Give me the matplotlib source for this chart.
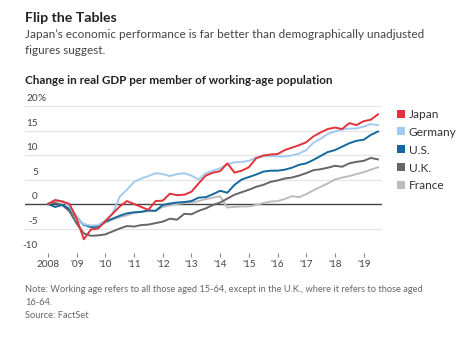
import numpy as np
import matplotlib.pyplot as plt
from matplotlib.patches import Patch
from matplotlib.transforms import blended_transform_factory

plt.rcParams['font.family'] = ['Lato', 'DejaVu Sans']

# quarterly, 2008 Q1 .. 2019 Q3
quarters = np.arange(2008.0, 2019.51, 0.25)

japan = [0, 0.8, 0.5, 0.0,
         -3.0, -7.2, -5.2, -5.0,
         -3.5, -2.0, -0.5, 0.6,
         0.0, -0.6, -1.2, 0.6,
         0.7, 2.1, 1.8, 1.9,
         2.5, 4.2, 5.8, 6.4,
         6.7, 8.3, 6.4, 6.8,
         7.5, 9.3, 9.9, 10.1,
         10.2, 11.0, 11.5, 12.0,
         12.6, 13.8, 14.6, 15.3,
         15.6, 15.3, 16.5, 16.1,
         16.9, 17.2, 18.3]
germany = [0, 0.8, 0.6, -0.5,
           -3.0, -4.1, -4.4, -4.3,
           -3.4, -2.0, 1.5, 2.9,
           4.5, 5.2, 5.7, 6.3,
           6.1, 5.7, 6.1, 6.3,
           5.8, 5.0, 6.3, 6.8,
           7.3, 8.1, 8.5, 8.6,
           8.8, 9.5, 9.7, 9.8,
           9.7, 9.7, 9.9, 10.3,
           11.0, 12.5, 13.3, 14.3,
           14.8, 15.2, 15.4, 15.4,
           15.8, 16.3, 16.1]
us = [0, -0.6, -0.2, -1.0,
      -3.0, -4.2, -4.7, -4.6,
      -3.6, -3.0, -2.4, -1.9,
      -1.7, -1.6, -1.3, -1.4,
      -0.2, 0.1, 0.3, 0.4,
      0.6, 1.3, 1.4, 2.0,
      2.7, 2.3, 3.9, 5.0,
      5.5, 6.0, 6.6, 6.8,
      6.8, 7.0, 7.4, 8.0,
      8.3, 9.0, 9.8, 10.6,
      11.0, 11.7, 12.4, 12.9,
      13.1, 14.1, 14.8]
uk = [0, 0.2, -0.2, -1.5,
      -4.0, -6.0, -6.5, -6.4,
      -6.2, -5.6, -5.0, -4.5,
      -4.6, -4.3, -4.2, -3.9,
      -3.6, -3.0, -3.2, -2.0,
      -2.1, -1.4, -0.9, -0.2,
      0.3, 1.1, 1.9, 2.4,
      2.9, 3.5, 3.9, 4.5,
      4.8, 5.2, 5.4, 5.8,
      6.3, 6.9, 7.1, 7.4,
      7.8, 7.6, 8.3, 8.6,
      8.8, 9.4, 9.1]
france = [0, 0.5, 0.6, -0.3,
          -2.5, -4.3, -4.8, -4.6,
          -3.8, -3.2, -2.7, -2.3,
          -1.8, -1.6, -1.5, -1.4,
          -0.6, -0.3, 0.0, 0.2,
          0.3, 0.6, 1.0, 1.3,
          1.6, -0.7, -0.6, -0.5,
          -0.5, -0.2, 0.2, 0.5,
          0.6, 1.0, 1.6, 1.4,
          2.0, 2.8, 3.5, 4.2,
          5.0, 5.4, 5.7, 6.1,
          6.5, 7.0, 7.5]

countries = ['Japan', 'Germany', 'U.S.', 'U.K.', 'France']
colors = ['#e2323a', '#a3cbee', '#13699e', '#666666', '#bcbcbc']
series = [japan, germany, us, uk, france]

y_ticks = [20, 15, 10, 5, 0, -5, -10]
x_ticks = list(range(2008, 2020))
x_labels = ['2008'] + ["'%02d" % (y % 100) for y in x_ticks[1:]]

fig = plt.figure(figsize=(4.74, 3.43), dpi=100)
ax = fig.add_axes([25 / 474, 90 / 343, 357 / 474, 147 / 343])

ax.set_xlim(2007.2, 2019.64)
ax.set_ylim(-10, 20)

for v in y_ticks:
    if v == 0:
        ax.axhline(v, color='#444444', lw=1.0, zorder=1)
    else:
        ax.axhline(v, color='#e3e3e3', lw=0.8, zorder=0)

# draw back to front so Japan ends on top
for name, vals, c in reversed(list(zip(countries, series, colors))):
    ax.plot(quarters, vals, color=c, lw=1.4, zorder=3, solid_joinstyle='round')

for s in ax.spines.values():
    s.set_visible(False)
ax.set_yticks([])
ax.set_xticks(x_ticks)
ax.set_xticklabels(x_labels, fontsize=7.2, color='#444444')
ax.tick_params(axis='x', length=3, width=0.8, color='#888888', pad=2)

trans = blended_transform_factory(ax.transAxes, ax.transData)
for v in y_ticks:
    ax.text(0.036, v + 0.6, str(v), transform=trans, ha='right', va='bottom',
            fontsize=7.2, color='#444444')
    if v == 20:
        ax.text(0.036, v + 0.6, '%', transform=trans, ha='left', va='bottom',
                fontsize=7.2, color='#444444')

handles = [Patch(facecolor=c, edgecolor='none') for c in colors]
fig.legend(handles, countries, loc='upper left', bbox_to_anchor=(386 / 474, 1 - 98 / 343),
           frameon=False, fontsize=8.6, handlelength=0.65, handleheight=0.65,
           handletextpad=0.35, labelspacing=0.58, labelcolor='#333333')

fig.text(25 / 474, 1 - 18 / 343, 'Flip the Tables', fontsize=10.2, fontweight='bold',
         color='#222222', va='center', ha='left')
fig.text(25 / 474, 1 - 34 / 343, 'Japan\u2019s economic performance is far better than demographically unadjusted',
         fontsize=8.5, color='#444444', va='center', ha='left')
fig.text(25 / 474, 1 - 50 / 343, 'figures suggest.', fontsize=8.5, color='#444444',
         va='center', ha='left')
fig.text(25 / 474, 1 - 80 / 343, 'Change in real GDP per member of working-age population',
         fontsize=8.4, fontweight='bold', color='#222222', va='center', ha='left')

note = ('Note: Working age refers to all those aged 15-64, except in the U.K., where it refers to those aged\n'
        '16-64.\nSource: FactSet')
fig.text(25 / 474, 1 - 285 / 343, note, fontsize=6.65, color='#666666', va='top', ha='left',
         linespacing=1.6)

fig.savefig('out.png', dpi=100, facecolor='white')
